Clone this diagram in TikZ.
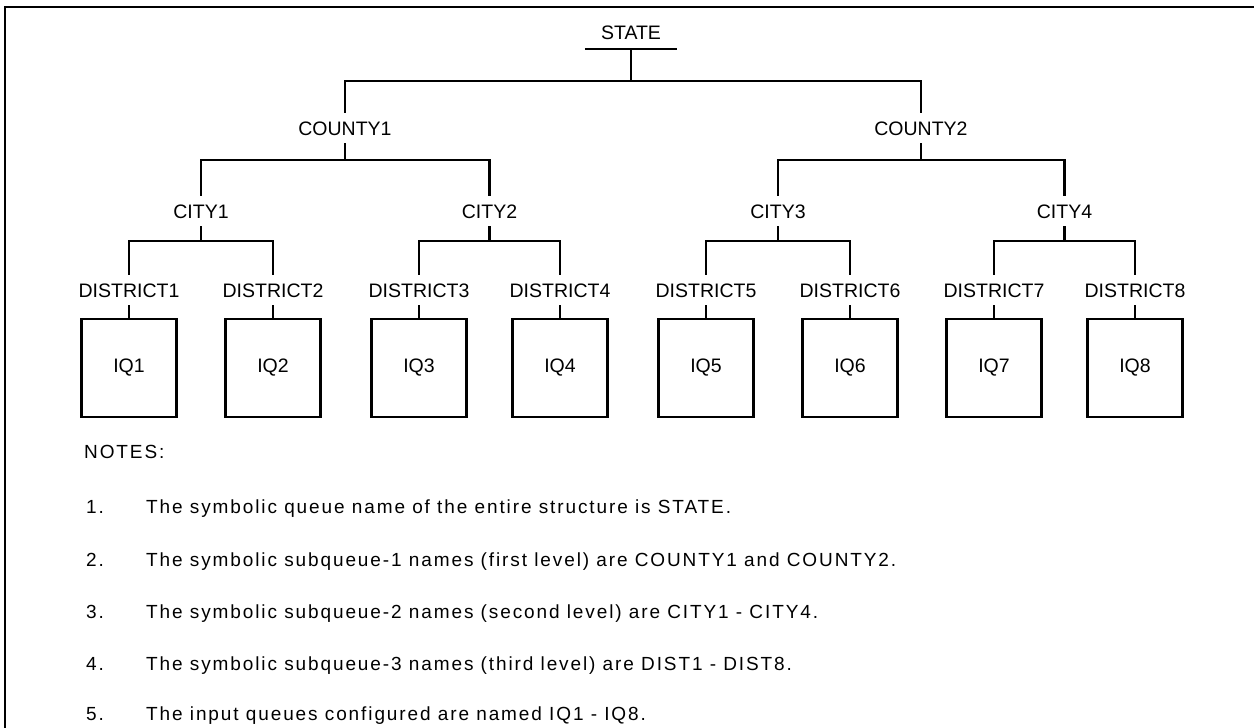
\documentclass[tikz,border=0pt]{standalone}
\usepackage{fontspec}
\setmainfont{Liberation Sans}
\newfontfamily\notefam[LetterSpace=10]{Liberation Sans}
\newcommand\lblfont{\fontsize{19.5}{23}\selectfont}
\newcommand\notefont{\notefam\fontsize{19}{23}\selectfont}
\begin{document}
\begin{tikzpicture}[x=1pt,y=-1pt,
  lbl/.style={anchor=base, inner xsep=2pt, inner ysep=8pt, text height=14pt, text depth=0pt, font=\lblfont},
  qbox/.style={draw, line width=2.5pt, minimum width=95pt, minimum height=98pt, inner sep=0pt, font=\lblfont},
  conn/.style={line width=2.4pt, line join=miter},
  frame/.style={line width=2.6pt},
  note/.style={anchor=base west, inner sep=0pt, font=\notefont}]
\useasboundingbox (0,0) rectangle (1254,728);
% frame
\draw[frame] (5,728) -- (5,7) -- (1254,7);
% labels
\node[lbl, inner ysep=10pt, minimum width=92pt] (state) at (631,39) {STATE};
\node[lbl] (c1) at (345,135) {COUNTY1};
\node[lbl] (c2) at (921,135) {COUNTY2};
\node[lbl] (ct1) at (201,218) {CITY1};
\node[lbl] (ct2) at (489.5,218) {CITY2};
\node[lbl] (ct3) at (778,218) {CITY3};
\node[lbl] (ct4) at (1064.5,218) {CITY4};
\foreach \i/\x in {1/129,2/273,3/419,4/560,5/706,6/850,7/994,8/1135}{
  \node[lbl] (d\i) at (\x,297) {DISTRICT\i};
  \node[qbox] (q\i) at (\x,368) {IQ\i};
  \draw[conn] (d\i.south) -- (q\i.north);
}
% state
\draw[conn] (state.south west) -- (state.south east);
\draw[conn] (state.south) -- (state.south |- 0,81);
\draw[conn] (c1.north) -- (c1.north |- 0,81) -- (c2.north |- 0,81) -- (c2.north);
% counties
\draw[conn] (c1.south) -- (c1.south |- 0,160);
\draw[conn] (c2.south) -- (c2.south |- 0,160);
\draw[conn] (ct1.north) -- (ct1.north |- 0,160) -- (ct2.north |- 0,160) -- (ct2.north);
\draw[conn] (ct3.north) -- (ct3.north |- 0,160) -- (ct4.north |- 0,160) -- (ct4.north);
% cities
\foreach \c/\a/\b in {1/1/2,2/3/4,3/5/6,4/7/8}{
  \draw[conn] (ct\c.south) -- (ct\c.south |- 0,241);
  \draw[conn] (d\a.north) -- (d\a.north |- 0,241) -- (d\b.north |- 0,241) -- (d\b.north);
}
% notes
\node[note] (notes) at (84,458) {NOTES:};
\node[note] (n1) at (86,513) {1.};
\node[note] (t1) at (146,513) {The symbolic queue name of the entire structure is STATE.};
\node[note] (n2) at (86,566) {2.};
\node[note] (t2) at (146,566) {The symbolic subqueue-1 names (first level) are COUNTY1 and COUNTY2.};
\node[note] (n3) at (86,618) {3.};
\node[note] (t3) at (146,618) {The symbolic subqueue-2 names (second level) are CITY1 - CITY4.};
\node[note] (n4) at (86,670) {4.};
\node[note] (t4) at (146,670) {The symbolic subqueue-3 names (third level) are DIST1 - DIST8.};
\node[note] (n5) at (86,720) {5.};
\node[note] (t5) at (146,720) {The input queues configured are named IQ1 - IQ8.};
\end{tikzpicture}
\end{document}
